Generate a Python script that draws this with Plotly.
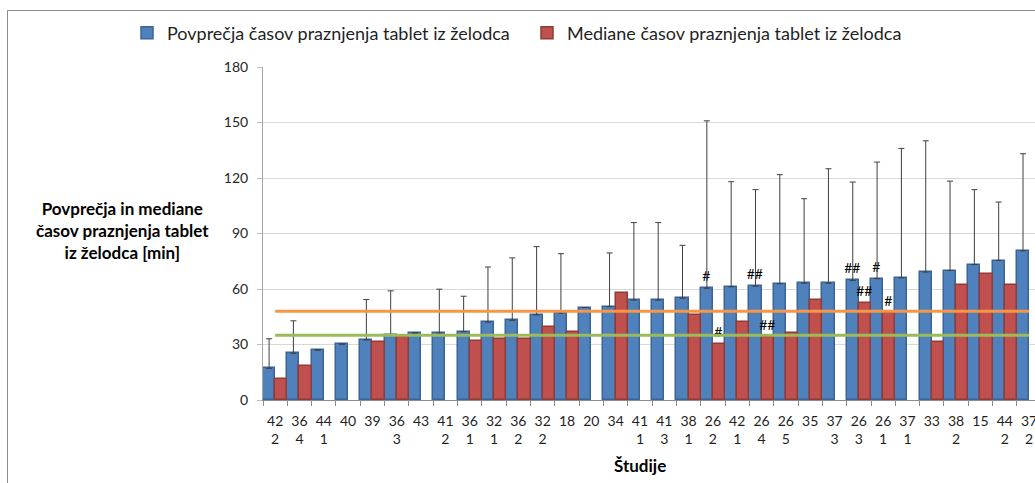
import plotly.graph_objects as go

# Studies (study number / subgroup)
studies = [
    "42<br>2", "36<br>4", "44<br>1", "40", "39", "36<br>3", "43", "41<br>2",
    "36<br>1", "32<br>1", "36<br>2", "32<br>2", "18", "20", "34", "41<br>1",
    "41<br>3", "38<br>1", "26<br>2", "42<br>1", "26<br>4", "26<br>5", "35", "37<br>3",
    "26<br>3", "26<br>1", "37<br>1", "33", "38<br>2", "15", "44<br>2", "37<br>2",
]

# Mean gastric emptying times of tablets [min]
mean_times = [
    17.1, 25.2, 27.0, 30.2, 32.4, 35.1, 36.2, 36.2,
    36.9, 42.1, 43.0, 46.0, 46.9, 50.0, 50.5, 54.0,
    54.0, 55.0, 60.4, 61.2, 61.5, 62.8, 63.1, 63.1,
    64.6, 65.6, 66.0, 69.1, 70.0, 73.2, 75.4, 80.6,
]

# Standard deviations of the means [min] (None = not reported)
mean_sd = [
    16.0, 17.6, None, None, 21.9, 23.9, None, 23.7,
    19.2, 29.8, 33.8, 36.9, 32.2, None, 29.0, 41.9,
    41.9, 28.6, 90.5, 56.8, 52.2, 59.0, 45.7, 61.9,
    53.2, 63.0, 70.0, 71.0, 48.3, 40.5, 31.6, 52.5,
]

# Median gastric emptying times of tablets [min] (None = not reported)
median_times = [
    11.2, 18.3, None, None, 31.3, 33.8, None, None,
    31.8, 32.9, 32.9, 39.2, 36.9, None, 58.1, None,
    None, 45.7, 30.2, 42.3, 33.8, 36.2, 54.1, None,
    52.2, 47.3, None, 31.3, 62.2, 68.2, 62.2, None,
]

# Significance marks above the bars
mean_marks = [""] * 18 + ["#", "", "##", "", "", "", "##", "#"] + [""] * 6
median_marks = [""] * 18 + ["#", "", "##", "", "", "", "##", "#"] + [""] * 6

# Overall mean and median across all studies [min]
overall_mean = 48.0
overall_median = 35.0

FONT = "Lato, 'Open Sans', sans-serif"
W, H = 1035, 483
L, R, T, B = 263, 0, 67, 83
plot_w = W - L - R
plot_h = H - T - B

fig = go.Figure()

fig.add_trace(go.Bar(
    x=studies, y=mean_times,
    name="Povprečja časov praznjenja tablet iz želodca",
    marker=dict(color="#4F81BD", line=dict(color="#3A6594", width=1.5)),
    error_y=dict(type="data", array=mean_sd, arrayminus=[0] * len(mean_sd),
                 symmetric=False, color="#3F3F3F", thickness=1, width=3),
    text=mean_marks, textposition="outside", cliponaxis=False,
    constraintext="none",
    textfont=dict(family=FONT, size=14, color="#000000"),
))

fig.add_trace(go.Bar(
    x=studies, y=median_times,
    name="Mediane časov praznjenja tablet iz želodca",
    marker=dict(color="#C0504D", line=dict(color="#8E3B39", width=1.5)),
    text=median_marks, textposition="outside", cliponaxis=False,
    constraintext="none",
    textfont=dict(family=FONT, size=14, color="#000000"),
))

fig.add_trace(go.Scatter(
    x=studies, y=[overall_mean] * len(studies), mode="lines",
    line=dict(color="#F79646", width=3), showlegend=False, hoverinfo="skip",
))
fig.add_trace(go.Scatter(
    x=studies, y=[overall_median] * len(studies), mode="lines",
    line=dict(color="#9BBB59", width=3), showlegend=False, hoverinfo="skip",
))

fig.update_layout(
    width=W, height=H,
    margin=dict(l=L, r=R, t=T, b=B, pad=0, autoexpand=False),
    paper_bgcolor="white", plot_bgcolor="white",
    barmode="group", bargap=0.0, bargroupgap=0.0,
    font=dict(family=FONT, size=14, color="#262626"),
    showlegend=True,
    legend=dict(
        orientation="h", xref="paper", yref="paper",
        x=(127 - L) / plot_w, xanchor="left",
        y=(H - B - 33) / plot_h, yanchor="middle",
        bgcolor="rgba(0,0,0,0)",
        font=dict(family=FONT, size=18, color="#1F1F1F"),
        itemwidth=30, traceorder="normal",
        entrywidth=355, entrywidthmode="pixels",
    ),
    xaxis=dict(
        type="category", range=[-0.5, -0.5 + plot_w / 24.32],
        tickson="boundaries", ticks="outside", ticklen=5, tickcolor="#8C8C8C",
        tickangle=0, ticklabelstandoff=8,
        showline=True, linecolor="#8C8C8C", linewidth=1,
        showgrid=False, zeroline=False,
        tickfont=dict(family=FONT, size=14, color="#1F1F1F"),
    ),
    yaxis=dict(
        range=[0, 180], tick0=0, dtick=30,
        ticks="outside", ticklen=5, tickcolor="#BFBFBF",
        ticklabelstandoff=6,
        showline=True, linecolor="#A6A6A6", linewidth=1,
        showgrid=True, gridcolor="#D9D9D9", gridwidth=1.3, zeroline=False,
        tickfont=dict(family=FONT, size=14, color="#262626"),
    ),
    annotations=[
        dict(text="<b>Povprečja in mediane<br>časov praznjenja tablet<br>iz želodca [min]</b>",
             xref="paper", yref="paper",
             x=(122 - L) / plot_w, y=(H - B - 230) / plot_h,
             xanchor="center", yanchor="middle", showarrow=False, align="center",
             font=dict(family=FONT, size=17, color="#000000")),
        dict(text="<b>Študije</b>", xref="paper", yref="paper",
             x=(640 - L) / plot_w, y=(H - B - 465) / plot_h,
             xanchor="center", yanchor="middle", showarrow=False,
             font=dict(family=FONT, size=17, color="#000000")),
    ],
    shapes=[
        dict(type="rect", xref="paper", yref="paper",
             x0=(7.5 - L) / plot_w, x1=1.05,
             y0=-0.3, y1=(H - B - 10.5) / plot_h,
             line=dict(color="#8C8C8C", width=1), fillcolor="rgba(0,0,0,0)"),
    ],
)

fig.write_html("out.html")
